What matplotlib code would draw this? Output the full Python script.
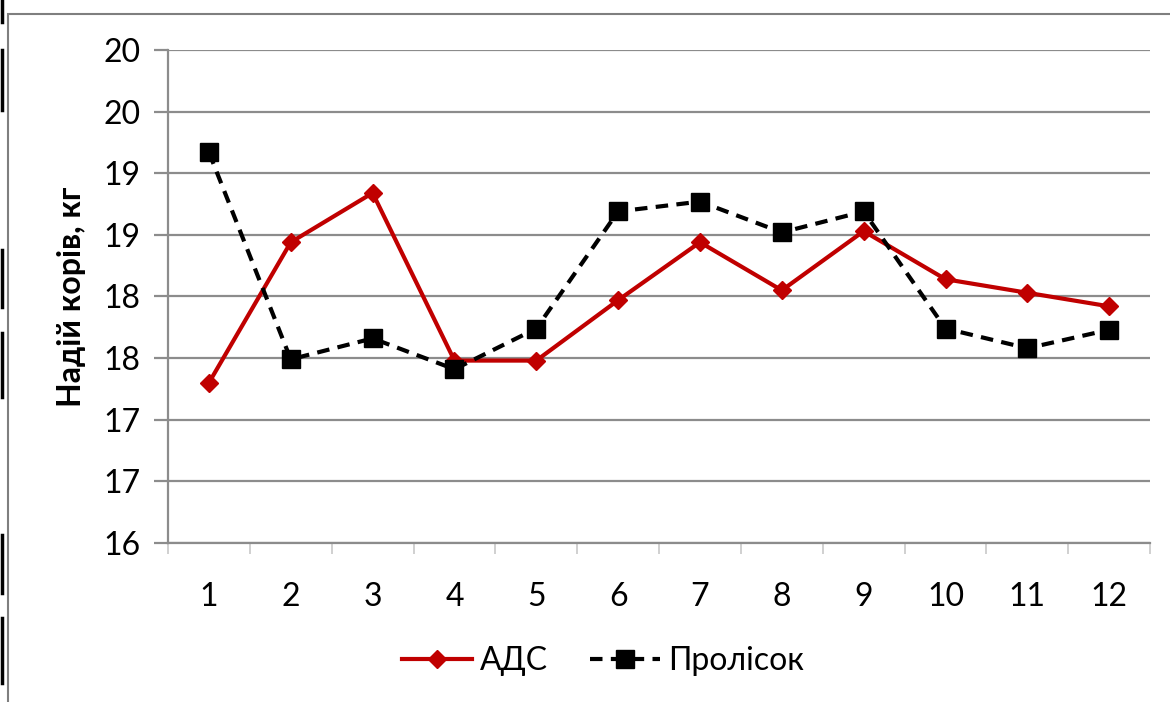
import numpy as np
import matplotlib.pyplot as plt
from matplotlib.lines import Line2D
from matplotlib.patches import Rectangle

months = [1, 2, 3, 4, 5, 6, 7, 8, 9, 10, 11, 12]
ads = [17.30, 18.44, 18.84, 17.48, 17.48, 17.97, 18.44, 18.05, 18.53, 18.14, 18.03, 17.92]
prolisok = [19.17, 17.49, 17.66, 17.41, 17.74, 18.69, 18.77, 18.52, 18.69, 17.74, 17.58, 17.73]

y_ticks = [16.0, 16.5, 17.0, 17.5, 18.0, 18.5, 19.0, 19.5, 20.0]
y_labels = ['16', '17', '17', '18', '18', '19', '19', '20', '20']

plt.rcParams['font.family'] = ['Lato', 'DejaVu Sans']

fig = plt.figure(figsize=(11.7, 7.02), dpi=100)
ax = fig.add_axes([0.1436, 0.2265, 0.8394, 0.7023])

grid = '#8c8c8c'
ax.set_ylim(16, 20)
ax.set_xlim(0.5, 12.5)
ax.set_yticks(y_ticks)
ax.set_yticklabels(y_labels)
ax.yaxis.grid(True, color=grid, lw=1.6)
ax.set_axisbelow(True)

ax.plot(months, ads, color='#c00000', lw=3, marker='D', ms=9,
        label='АДС', zorder=3)
ax.plot(months, prolisok, color='black', lw=3, ls=(0, (3, 2)), marker='s',
        ms=13, label='Пролісок', zorder=3)

ax.set_xticks(months)
ax.set_xticks(np.arange(0.5, 12.6, 1), minor=True)
ax.tick_params(axis='x', which='major', length=0, pad=28, labelsize=23)
ax.tick_params(axis='x', which='minor', length=8, color='#c8c8c8', width=1.2)
ax.tick_params(axis='y', length=10, color=grid, width=1.6, labelsize=23, pad=10)

for s in ['top', 'right']:
    ax.spines[s].set_visible(False)
ax.spines['left'].set_color(grid)
ax.spines['left'].set_linewidth(1.6)
ax.spines['bottom'].set_color(grid)
ax.spines['bottom'].set_linewidth(1.6)

ax.set_ylabel('Надій корів, кг', fontsize=23, fontweight='bold', labelpad=12)

leg = ax.legend(loc='center', bbox_to_anchor=(0.443, -0.24), ncol=2, frameon=False,
                fontsize=23, handlelength=2.2, columnspacing=1.3, handletextpad=0.25)

# chart frame and the cut-off edges around it
fig.patches.append(Rectangle((8 / 1170, -0.01), 1.1, 1 - 14 / 702 + 0.01,
                             transform=fig.transFigure, fill=False,
                             ec='#7f7f7f', lw=1.5))
for y0, y1 in [(0, 22), (50, 110), (250, 307), (333, 397), (535, 593), (618, 683)]:
    fig.add_artist(Line2D([2 / 1170, 2 / 1170], [1 - y0 / 702, 1 - y1 / 702],
                          color='black', lw=2.5, transform=fig.transFigure))

fig.savefig('out.png', dpi=100)
